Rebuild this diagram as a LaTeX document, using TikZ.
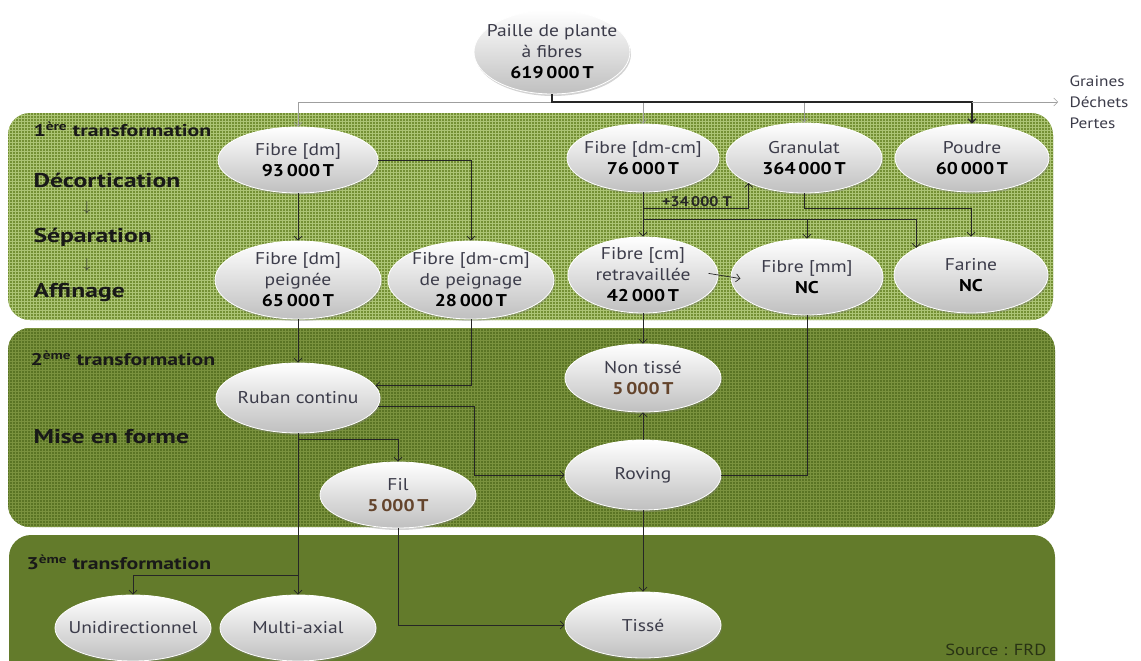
\documentclass[tikz,border=0pt]{standalone}
\usepackage{fontspec}
\setmainfont{PT Sans}[FakeStretch=1.15]
\newfontfamily\labelfont{PT Sans}[FakeStretch=1.28]
\usetikzlibrary{arrows.meta,shapes.geometric,shadows,patterns}

\definecolor{panelA}{RGB}{116,144,52}
\definecolor{panelAgrid}{RGB}{172,196,116}
\definecolor{panelB}{RGB}{90,116,36}
\definecolor{panelBgrid}{RGB}{122,146,62}
\definecolor{panelC}{RGB}{99,123,43}
\definecolor{ink}{RGB}{60,60,74}
\definecolor{brownnum}{RGB}{100,68,44}
\definecolor{srcink}{RGB}{40,50,20}

\tikzset{
  stock/.style  ={ellipse, inner sep=-16pt, align=center, text=ink,
                  font=\fontsize{17}{21}\selectfont,
                  top color=white, middle color=gray!16, bottom color=gray!50,
                  draw=white, line width=0.8pt,
                  drop shadow={shadow xshift=1pt, shadow yshift=-2pt, opacity=0.35}},
  flow/.style   ={-{Straight Barb[length=4pt,width=8pt]}, line width=0.7pt, black!85},
  link/.style   ={line width=0.7pt, black!85},
  feed/.style   ={-{Straight Barb[length=4pt,width=8pt]}, line width=0.5pt, gray!75},
  main/.style   ={-{Straight Barb[length=4pt,width=8pt]}, line width=1.2pt, black!85},
  stage/.style  ={anchor=west, text=black!90, font=\labelfont\bfseries\fontsize{20}{22}\selectfont},
  level/.style  ={anchor=west, text=black!90, font=\labelfont\bfseries\fontsize{17}{18}\selectfont},
  tick/.style   ={text=black!80, font=\fontsize{14}{14}\selectfont}
}

\begin{document}
\begin{tikzpicture}[x=1pt, y=-1pt]
  \useasboundingbox (0,0) rectangle (1141,661);

  % panels
  \fill[panelA, rounded corners=22pt] (8,113) rectangle (1053,320);
  \fill[pattern=grid, pattern color=panelAgrid, rounded corners=22pt] (8,113) rectangle (1053,320);
  \fill[panelB, rounded corners=22pt] (8,328) rectangle (1055,527);
  \fill[pattern=grid, pattern color=panelBgrid, rounded corners=22pt] (8,328) rectangle (1055,527);
  \fill[panelC, rounded corners=22pt] (9,535) rectangle (1055,690);

  % stage labels
  \node[level] (t1) at (30,129) {1\textsuperscript{ère} transformation};
  \node[stage] (decort) at (30,180) {Décortication};
  \node[tick] (a1) at (87,208) {$\downarrow$};
  \node[stage] (separ) at (30,237) {Séparation};
  \node[tick] (a2) at (87,265) {$\downarrow$};
  \node[stage] (affin) at (30,293) {Affinage};
  \node[level] (t2) at (27,358) {2\textsuperscript{ème} transformation};
  \node[stage] (mise) at (30,437) {Mise en forme};
  \node[level] (t3) at (23,562) {3\textsuperscript{ème} transformation};

  % source
  \node[stock, minimum width=156pt, minimum height=84pt] (paille) at (552,52) {Paille de plante\\à fibres\\\textbf{\color{black}619\,000\,T}};
  \node[anchor=west, align=left, text=ink, font=\fontsize{15}{21}\selectfont] (waste) at (1066,102) {Graines\\Déchets\\Pertes};

  % 1st transformation
  \node[stock, minimum width=160pt, minimum height=66pt] (fdm) at (298,160) {Fibre [dm]\\\textbf{\color{black}93\,000\,T}};
  \node[stock, minimum width=152pt, minimum height=68pt] (fdmcm) at (643,158) {Fibre [dm-cm]\\\textbf{\color{black}76\,000\,T}};
  \node[stock, minimum width=156pt, minimum height=70pt] (gran) at (804,158) {Granulat\\\textbf{\color{black}364\,000\,T}};
  \node[stock, minimum width=154pt, minimum height=68pt] (poudre) at (972,158) {Poudre\\\textbf{\color{black}60\,000\,T}};
  \node[stock, minimum width=166pt, minimum height=78pt] (fdmp) at (298,280) {Fibre [dm]\\peignée\\\textbf{\color{black}65\,000\,T}};
  \node[stock, minimum width=166pt, minimum height=78pt] (fpeign) at (471,280) {Fibre [dm-cm]\\de peignage\\\textbf{\color{black}28\,000\,T}};
  \node[stock, minimum width=150pt, minimum height=76pt] (fcm) at (643,275) {Fibre [cm]\\retravaillée\\\textbf{\color{black}42\,000\,T}};
  \node[stock, minimum width=152pt, minimum height=76pt] (fmm) at (807,277) {Fibre [mm]\\\textbf{\color{black}NC}};
  \node[stock, minimum width=154pt, minimum height=76pt] (farine) at (971,275) {Farine\\\textbf{\color{black}NC}};

  % 2nd transformation
  \node[stock, minimum width=164pt, minimum height=70pt] (ruban) at (298,398) {Ruban continu};
  \node[stock, minimum width=156pt, minimum height=66pt] (fil) at (398,495) {Fil\\\textbf{\color{brownnum}5\,000\,T}};
  \node[stock, minimum width=156pt, minimum height=68pt] (nontisse) at (643,378) {Non tissé\\\textbf{\color{brownnum}5\,000\,T}};
  \node[stock, minimum width=156pt, minimum height=70pt] (roving) at (643,475) {Roving};

  % 3rd transformation
  \node[stock, minimum width=156pt, minimum height=66pt] (uni) at (133,628) {Unidirectionnel};
  \node[stock, minimum width=156pt, minimum height=66pt] (multi) at (298,628) {Multi-axial};
  \node[stock, minimum width=156pt, minimum height=66pt] (tisse) at (643,625) {Tissé};
  \node[anchor=east, text=srcink, font=\fontsize{16}{18}\selectfont] (src) at (1050,650) {Source : FRD};

  % from the straw
  \coordinate (split) at (552,102);
  \draw[feed] (split) -| (fdm.north);
  \draw[feed] (split) -| (fdmcm.north);
  \draw[feed] (split) -| (gran.north);
  \draw[main] (paille.south) -- (split) -| (poudre.north);
  \draw[feed, shorten >=8pt] (split -| poudre.north) -- (waste.west);

  % 1st transformation links
  \draw[flow] (fdm) -- (fdmp);
  \draw[flow] (fdm.east) -| (fpeign.north);
  \draw[flow] (fdmcm) -- (fcm);
  \coordinate (gainpt) at (643,208);
  \draw[flow] (gainpt) -| (gran.south west);
  \node[anchor=south, inner sep=1pt, text=black!85, font=\bfseries\fontsize{14}{15}\selectfont] (gain) at (697,208) {+34\,000 T};
  \coordinate (finept) at (643,219);
  \draw[flow] (finept) -| (fmm.north);
  \draw[flow] (finept) -| (farine.north west);
  \draw[flow] (gran.south) -- (gran.south |- gainpt) -| (farine.north);
  \draw[flow, shorten <=-10pt, shorten >=-10pt] (fcm.east) -- (fmm.west);

  % 2nd transformation links
  \draw[flow] (fdmp) -- (ruban);
  \draw[flow] (fpeign.south) |- (ruban.9);
  \coordinate (rovbend) at (474,475);
  \draw[flow] (ruban.-6) -| (rovbend) -- (roving.west);
  \coordinate (filpt) at (298,439);
  \draw[flow] (filpt) -| (fil.north);
  \draw[flow] (fcm) -- (nontisse);
  \draw[flow] (roving) -- (nontisse);
  \draw[link] (roving.east) -| (fmm.south);

  % 3rd transformation links
  \draw[flow] (ruban) -- (multi);
  \coordinate (unipt) at (298,575);
  \draw[flow] (unipt) -| (uni.north);
  \draw[flow] (fil.south) |- (tisse.west);
  \draw[flow] (roving) -- (tisse);
\end{tikzpicture}
\end{document}
